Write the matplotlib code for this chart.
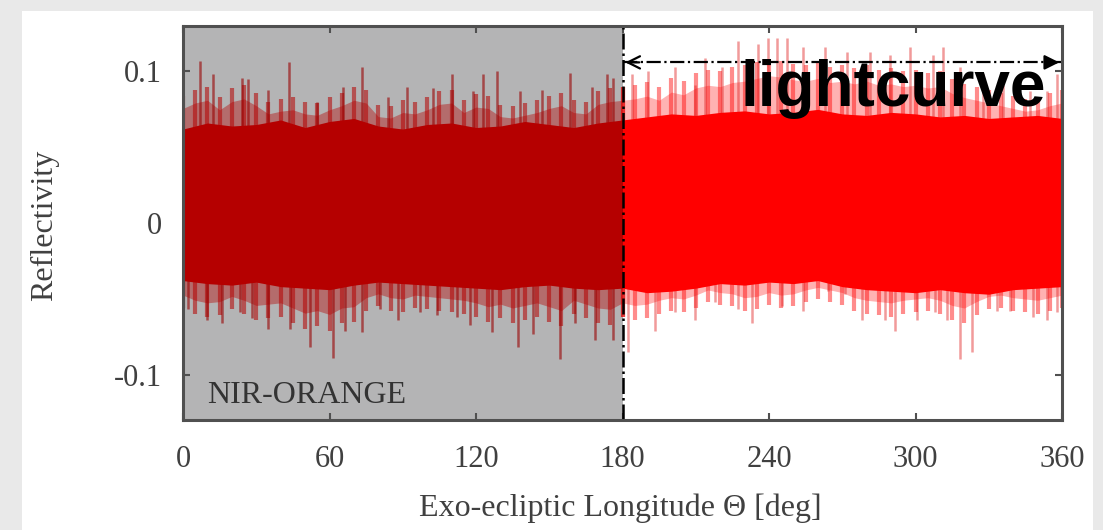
import numpy as np
import matplotlib
matplotlib.use("Agg")
import matplotlib.pyplot as plt
from matplotlib.patches import Rectangle

# ---------------- data ----------------
x_ticks = [0, 60, 120, 180, 240, 300, 360]
y_ticks = [-0.1, 0, 0.1]
y_tick_labels = ["-0.1", "0", "0.1"]

split_deg = 180          # boundary between NIR-ORANGE part and lightcurve part

# dense core of the signal, every 10 deg (0..360)
core_top = [0.062, 0.066, 0.064, 0.065, 0.068, 0.063, 0.067, 0.069, 0.064, 0.062,
            0.065, 0.066, 0.063, 0.064, 0.067, 0.065, 0.063, 0.066, 0.068,
            0.070, 0.072, 0.071, 0.073, 0.074, 0.072, 0.073, 0.075, 0.072, 0.071,
            0.073, 0.072, 0.070, 0.071, 0.069, 0.070, 0.071, 0.069]
core_bot = [-0.038, -0.040, -0.041, -0.039, -0.042, -0.043, -0.044, -0.041, -0.039, -0.040,
            -0.041, -0.042, -0.043, -0.044, -0.042, -0.041, -0.043, -0.044, -0.043,
            -0.046, -0.045, -0.043, -0.040, -0.041, -0.039, -0.040, -0.038, -0.042, -0.044,
            -0.045, -0.046, -0.044, -0.046, -0.047, -0.044, -0.043, -0.042]

# fringe of medium spikes, every 5 deg (0..360)
fringe_top = [0.084, 0.088, 0.090, 0.083, 0.089, 0.091, 0.086, 0.080, 0.082, 0.083,
              0.080, 0.079, 0.083, 0.086, 0.090, 0.088, 0.078, 0.077, 0.081, 0.080,
              0.083, 0.087, 0.088, 0.081, 0.085, 0.084, 0.078, 0.077, 0.079, 0.081,
              0.084, 0.086, 0.081, 0.080, 0.087, 0.089, 0.090,
              0.091, 0.093, 0.090, 0.096, 0.094, 0.099, 0.101, 0.100, 0.103, 0.104,
              0.106, 0.108, 0.107, 0.105, 0.104, 0.106, 0.103, 0.104, 0.102, 0.104,
              0.101, 0.102, 0.100, 0.101, 0.099, 0.100, 0.095, 0.092, 0.090, 0.088,
              0.086, 0.084, 0.082, 0.083, 0.086, 0.088]
fringe_bot = [-0.056, -0.060, -0.062, -0.061, -0.057, -0.060, -0.064, -0.063, -0.062, -0.066,
              -0.070, -0.068, -0.071, -0.066, -0.065, -0.058, -0.055, -0.058, -0.059, -0.056,
              -0.057, -0.058, -0.059, -0.060, -0.062, -0.065, -0.063, -0.066, -0.064, -0.062,
              -0.065, -0.068, -0.060, -0.063, -0.066, -0.067, -0.062,
              -0.064, -0.063, -0.060, -0.058, -0.059, -0.056, -0.052, -0.054, -0.055, -0.058,
              -0.057, -0.054, -0.056, -0.055, -0.052, -0.050, -0.052, -0.054, -0.058, -0.060,
              -0.061, -0.062, -0.060, -0.059, -0.058, -0.060, -0.064, -0.066, -0.061, -0.057,
              -0.056, -0.058, -0.059, -0.060, -0.058, -0.056]

# large individual spikes (longitude, reflectivity)
spike_top_x = [7.0, 12.3, 24.2, 26.6, 34.8, 43.4, 54.9, 65.5, 73.3, 84.0, 91.7, 102.4,
               110.2, 118.8, 122.9, 128.6, 138.0, 147.0, 158.5, 167.5, 173.7, 176.1,
               183.9, 190.5, 201.5, 209.7, 213.8, 220.8, 227.3, 235.5, 239.6, 243.3,
               247.4, 253.9, 262.9, 272.0, 281.4, 289.6, 297.8, 307.2, 311.3, 318.3,
               327.7, 335.9, 346.9, 353.9, 358.0]
spike_top_y = [0.107, 0.098, 0.096, 0.095, 0.088, 0.106, 0.080, 0.090, 0.103, 0.083, 0.090, 0.089,
               0.098, 0.087, 0.098, 0.100, 0.087, 0.088, 0.099, 0.090, 0.098, 0.096,
               0.098, 0.100, 0.103, 0.091, 0.109, 0.103, 0.120, 0.118, 0.122, 0.122,
               0.122, 0.116, 0.116, 0.113, 0.113, 0.111, 0.116, 0.111, 0.116, 0.103,
               0.098, 0.091, 0.087, 0.087, 0.098]
spike_bot_x = [2.0, 9.8, 16.0, 23.3, 28.3, 34.8, 43.8, 52.0, 61.4, 66.4, 73.3, 80.7, 88.1,
               97.1, 104.0, 112.2, 117.6, 126.6, 137.2, 143.4, 154.4, 160.6, 168.8, 176.1,
               182.3, 193.3, 201.5, 209.7, 217.9, 227.3, 233.1, 245.4, 253.9, 264.2, 271.2,
               278.1, 287.5, 291.6, 300.6, 308.0, 313.0, 318.3, 323.2, 333.4, 338.7, 348.2,
               353.9, 358.0]
spike_bot_y = [-0.057, -0.064, -0.066, -0.059, -0.063, -0.070, -0.070, -0.082, -0.089, -0.071,
               -0.072, -0.057, -0.064, -0.059, -0.061, -0.062, -0.067, -0.072, -0.082, -0.073,
               -0.090, -0.066, -0.077, -0.077,
               -0.085, -0.071, -0.059, -0.064, -0.052, -0.057, -0.066, -0.055, -0.058, -0.045,
               -0.047, -0.064, -0.064, -0.071, -0.064, -0.059, -0.064, -0.090, -0.085, -0.058,
               -0.058, -0.062, -0.064, -0.059]

# ---------------- styling ----------------
DARK_RED = "#b50000"
RED = "#ff0000"
SHADE = "#b4b4b5"
FRAME = "#505050"
TXT = "#404040"
SERIF = ["Liberation Serif", "DejaVu Serif"]

fig = plt.figure(figsize=(11.03, 5.30), dpi=100)
fig.patch.set_facecolor("#e9e9e9")
fig.patches.append(Rectangle((22 / 1103, 0), (1093 - 22) / 1103, (530 - 11) / 530,
                             transform=fig.transFigure, facecolor="white",
                             edgecolor="none", zorder=-5))

ax = fig.add_axes([183 / 1103, (530 - 420) / 530, (1062 - 183) / 1103, (420 - 26) / 530])
ax.set_zorder(2)
ax.set_facecolor("white")
ax.set_xlim(0, 360)
ax.set_ylim(-0.13, 0.13)

ax.axvspan(0, split_deg, color=SHADE, zorder=0, lw=0)

x10 = np.arange(0, 361, 10)
x5 = np.arange(0, 361, 5)
core_top = np.array(core_top)
core_bot = np.array(core_bot)
fringe_top = np.array(fringe_top)
fringe_bot = np.array(fringe_bot)

for lo, hi, col, fa, la in [(0, split_deg, DARK_RED, 0.40, 0.55),
                            (split_deg, 360, RED, 0.30, 0.45)]:
    m5 = (x5 >= lo) & (x5 <= hi)
    # ragged fringe: soft band plus short spikes at each sample
    ax.fill_between(x5[m5], fringe_bot[m5] * 0.85, fringe_top[m5] * 0.9,
                    color=col, alpha=fa, lw=0, zorder=2)
    ax.vlines(x5[m5], 0, fringe_top[m5], color=col, lw=3.0, alpha=la, zorder=2.5)
    ax.vlines(x5[m5], fringe_bot[m5], 0, color=col, lw=3.0, alpha=la, zorder=2.5)
    m10 = (x10 >= lo) & (x10 <= hi)
    ax.fill_between(x10[m10], core_bot[m10], core_top[m10],
                    color=col, lw=0, zorder=4)

sx = np.array(spike_top_x); sy = np.array(spike_top_y)
bx = np.array(spike_bot_x); by = np.array(spike_bot_y)
for xs, ys in [(sx, sy), (bx, by)]:
    left = xs < split_deg
    ax.vlines(xs[left], 0, ys[left], color="#980000", lw=1.8, alpha=0.6, zorder=3)
    ax.vlines(xs[~left], 0, ys[~left], color="#e02020", lw=1.8, alpha=0.45, zorder=3)

# boundary line and lightcurve arrow
ax.axvline(split_deg, color="black", ls="-.", lw=1.8, zorder=6)
arrow_y = 0.106
ax.hlines(arrow_y, split_deg, 360, colors="black", linestyles="-.", lw=1.6, zorder=6)
ax.annotate("", xy=(split_deg, arrow_y), xytext=(split_deg + 8, arrow_y),
            arrowprops=dict(arrowstyle="->", lw=1.6, color="black", mutation_scale=22),
            zorder=7, annotation_clip=False)
ax.annotate("", xy=(360, arrow_y), xytext=(352, arrow_y),
            arrowprops=dict(arrowstyle="-|>", lw=1.6, color="black", mutation_scale=22),
            zorder=7, annotation_clip=False)
ax.text(353.5, 0.077, "lightcurve", ha="right", va="baseline", fontsize=46,
        fontweight="bold", family=["Liberation Sans", "DejaVu Sans"], color="black", zorder=8)

ax.text(0.028, 0.043, "NIR-ORANGE", transform=ax.transAxes, ha="left", va="baseline",
        fontsize=23, family=SERIF, color="#333333", zorder=8)

# axes appearance
for s in ax.spines.values():
    s.set_color(FRAME)
    s.set_linewidth(2.2)
    s.set_zorder(9)
ax.set_xticks(x_ticks)
ax.set_xticklabels([str(v) for v in x_ticks])
ax.set_yticks(y_ticks)
ax.set_yticklabels(y_tick_labels)
ax.tick_params(direction="in", length=5, width=1.5, color=FRAME,
               top=True, right=True, labelsize=22, labelcolor=TXT)
ax.tick_params(axis="x", pad=18)
ax.tick_params(axis="y", pad=15)
for lab in ax.get_xticklabels() + ax.get_yticklabels():
    lab.set_family(SERIF)

ax.text(0.497, -0.225, "Exo-ecliptic Longitude \u0398 [deg]", transform=ax.transAxes,
        ha="center", va="center", fontsize=23, family=SERIF, color=TXT)
ax.text(-0.157, 0.495, "Reflectivity", transform=ax.transAxes, rotation=90,
        ha="center", va="center", fontsize=23, family=SERIF, color=TXT)

fig.savefig("out.png", dpi=100, facecolor=fig.get_facecolor())
